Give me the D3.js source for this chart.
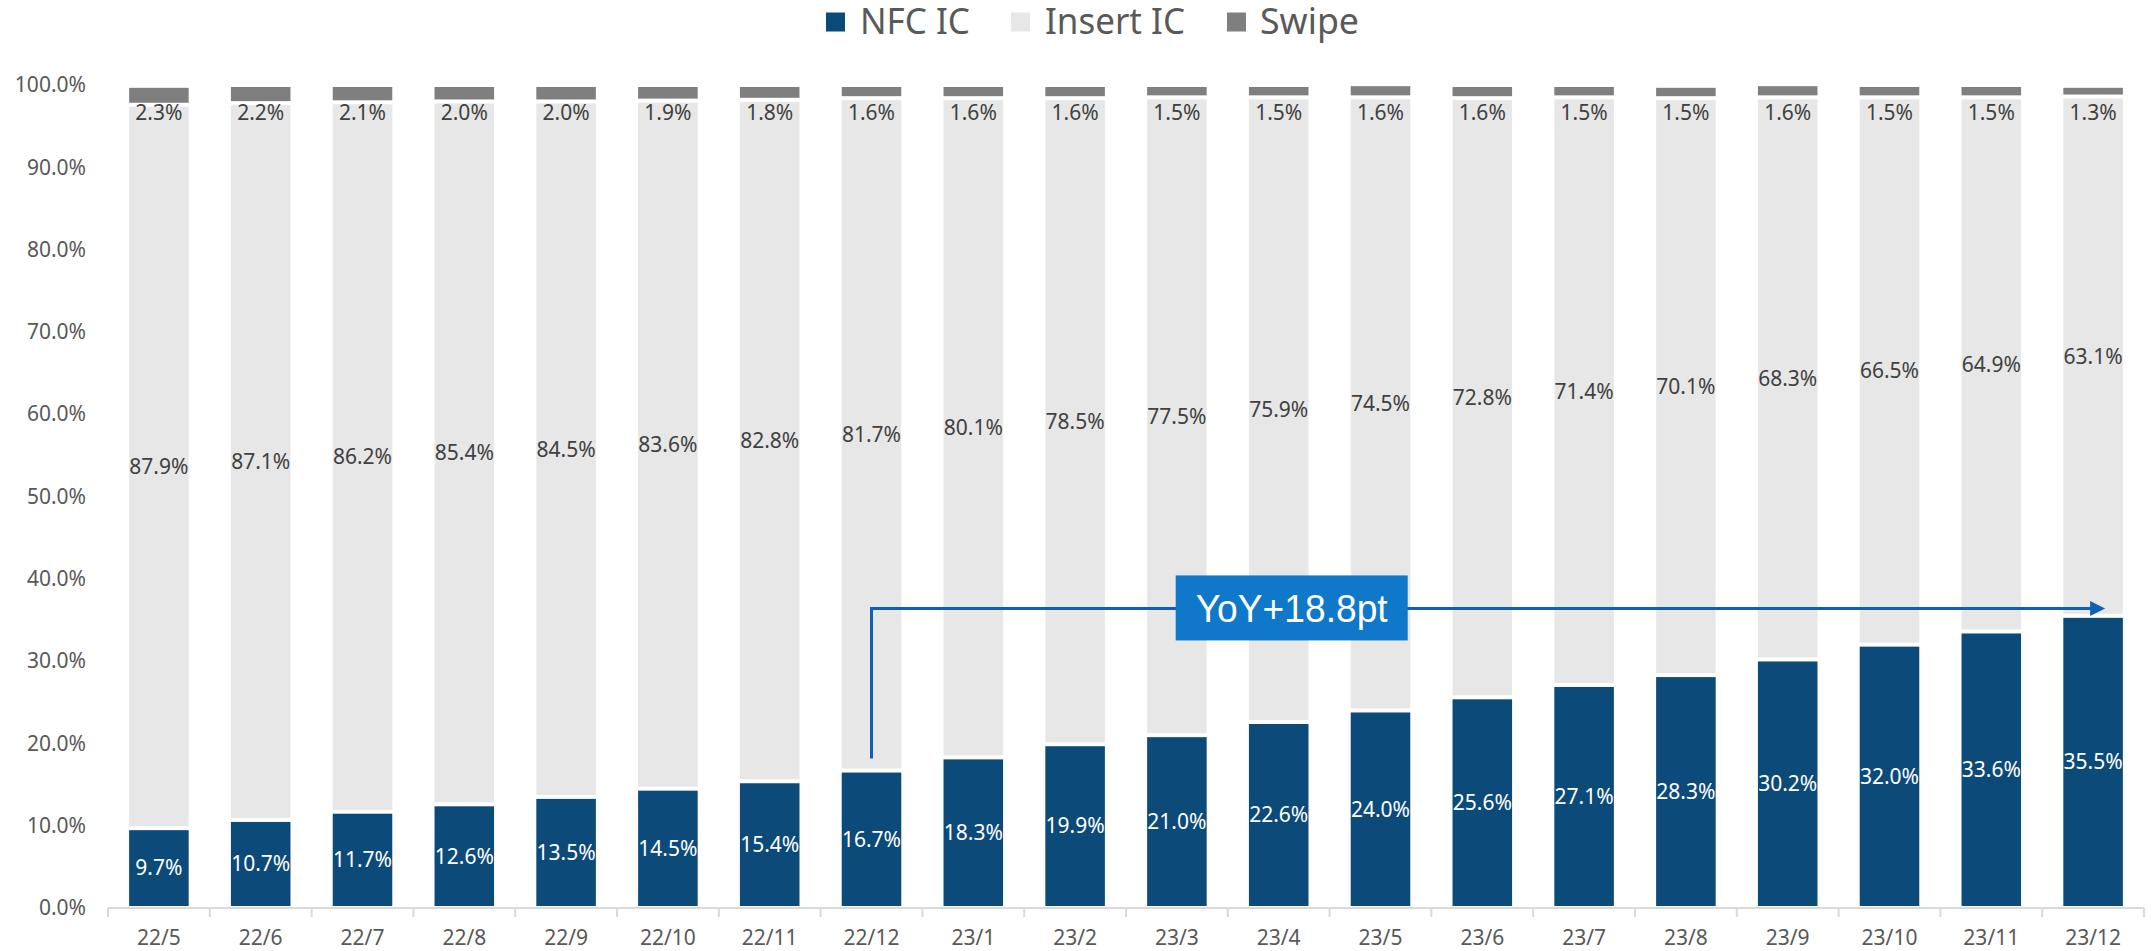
<!DOCTYPE html>
<html>
<head>
<meta charset="utf-8" />
<title>NFC IC share</title>
<style>
  body { margin: 0; background: #ffffff; }
  text { font-family: "Noto Sans", "Open Sans", sans-serif; }
</style>
</head>
<body>
<div id="chart"></div>
<script src="https://cdn.jsdelivr.net/npm/d3@7"></script>
<script>
// data (percent)
var months = ["22/5", "22/6", "22/7", "22/8", "22/9", "22/10", "22/11", "22/12", "23/1", "23/2",
              "23/3", "23/4", "23/5", "23/6", "23/7", "23/8", "23/9", "23/10", "23/11", "23/12"];
var nfcIC = [9.7, 10.7, 11.7, 12.6, 13.5, 14.5, 15.4, 16.7, 18.3, 19.9,
             21.0, 22.6, 24.0, 25.6, 27.1, 28.3, 30.2, 32.0, 33.6, 35.5];
var insertIC = [87.9, 87.1, 86.2, 85.4, 84.5, 83.6, 82.8, 81.7, 80.1, 78.5,
                77.5, 75.9, 74.5, 72.8, 71.4, 70.1, 68.3, 66.5, 64.9, 63.1];
var swipe = [2.3, 2.2, 2.1, 2.0, 2.0, 1.9, 1.8, 1.6, 1.6, 1.6,
             1.5, 1.5, 1.6, 1.6, 1.5, 1.5, 1.6, 1.5, 1.5, 1.3];
var seriesNames = ["NFC IC", "Insert IC", "Swipe"];
var yTicks = [0, 10, 20, 30, 40, 50, 60, 70, 80, 90, 100];
// annotation
var annoFrom = "22/12";
var annoTo = "23/12";
var annoBoxAt = "23/4";
var annoLevel = 36.4;
var annoText = "YoY+18.8pt";

var width = 2152;
var height = 951;
var colors = { "NFC IC": "#0b4a79", "Insert IC": "#e7e7e7", "Swipe": "#7f7f7f" };

var svg = d3.select("#chart").append("svg").attr("width", width).attr("height", height);

var x = d3.scaleBand().domain(months).range([108, 2144]).paddingInner(0.415).paddingOuter(0.2075);
var y = d3.scaleLinear().domain([0, 100]).range([908, 85]);

var rows = months.map(function(m, i) {
  return { month: m, "NFC IC": nfcIC[i], "Insert IC": insertIC[i], "Swipe": swipe[i] };
});
var stacked = d3.stack().keys(seriesNames)(rows);

// y axis labels
var yAxis = svg.append("g").attr("transform", "translate(86,0)")
  .call(d3.axisLeft(y).tickValues(yTicks).tickSize(0).tickPadding(0).tickFormat(function(d) { return d.toFixed(1) + "%"; }));
yAxis.select(".domain").remove();
yAxis.selectAll("text").attr("fill", "#595959").style("font-size", "21px").style("font-family", "Noto Sans");

// bars, inset a little so white gaps show between segments
stacked.forEach(function(layer) {
  svg.append("g").selectAll("rect").data(layer).enter().append("rect")
    .attr("x", function(d) { return x(d.data.month); })
    .attr("width", x.bandwidth())
    .attr("y", function(d) { return y(d[1]) + 2; })
    .attr("height", function(d) { return Math.max(0, y(d[0]) - y(d[1]) - 4); })
    .attr("fill", colors[layer.key]);
});

// x axis
var xAxis = svg.append("g").attr("transform", "translate(0,908)")
  .call(d3.axisBottom(x).tickSize(0).tickPadding(22));
xAxis.select(".domain").attr("stroke", "#d9d9d9").attr("stroke-width", 2).attr("d", "M108,0H2144");
xAxis.selectAll("text").attr("fill", "#595959").style("font-size", "21px").style("font-family", "Noto Sans");
var half = (x.step() - x.bandwidth()) / 2;
var bounds = months.map(function(m) { return x(m) - half; }).concat([x(months[months.length - 1]) + x.bandwidth() + half]);
svg.append("g").selectAll("line").data(bounds).enter().append("line")
  .attr("x1", function(d) { return d; }).attr("x2", function(d) { return d; })
  .attr("y1", 908).attr("y2", 917)
  .attr("stroke", "#d9d9d9").attr("stroke-width", 2);

// data labels
var cx = function(d) { return x(d.data.month) + x.bandwidth() / 2; };
svg.append("g").selectAll("text").data(stacked[0]).enter().append("text")
  .attr("x", cx).attr("y", function(d) { return (y(d[0]) + y(d[1])) / 2; })
  .attr("dy", "0.35em").attr("text-anchor", "middle")
  .attr("fill", "#ffffff").style("font-size", "21px")
  .text(function(d) { return d.data["NFC IC"].toFixed(1) + "%"; });
svg.append("g").selectAll("text").data(stacked[1]).enter().append("text")
  .attr("x", cx).attr("y", function(d) { return (y(d[0]) + y(d[1])) / 2; })
  .attr("dy", "0.35em").attr("text-anchor", "middle")
  .attr("fill", "#404040").style("font-size", "21px")
  .text(function(d) { return d.data["Insert IC"].toFixed(1) + "%"; });
svg.append("g").selectAll("text").data(stacked[2]).enter().append("text")
  .attr("x", cx).attr("y", y(100) + 28)
  .attr("dy", "0.35em").attr("text-anchor", "middle")
  .attr("fill", "#404040").style("font-size", "21px")
  .text(function(d) { return d.data["Swipe"].toFixed(1) + "%"; });

// legend
var legendItems = [
  { name: "NFC IC", sx: 826, tx: 860, tw: 110 },
  { name: "Insert IC", sx: 1011, tx: 1045, tw: 140 },
  { name: "Swipe", sx: 1227, tx: 1260, tw: 99 }
];
var legend = svg.append("g");
legendItems.forEach(function(it) {
  legend.append("rect").attr("x", it.sx).attr("y", 12.5).attr("width", 19).attr("height", 19)
    .attr("fill", colors[it.name]);
  legend.append("text").attr("x", it.tx).attr("y", 33.5)
    .attr("textLength", it.tw).attr("lengthAdjust", "spacingAndGlyphs")
    .attr("fill", "#595959").style("font-size", "37px")
    .text(it.name);
});

// YoY annotation
var ax0 = x(annoFrom) + x.bandwidth() / 2;
var ay0 = y(nfcIC[months.indexOf(annoFrom)]) - 12;
var ay = y(annoLevel);
var axTip = x(annoTo) + x.bandwidth() / 2 + 12;
var lineColor = "#0f5fb5";
svg.append("path")
  .attr("d", "M" + ax0 + "," + ay0 + "V" + ay + "H" + (axTip - 14))
  .attr("fill", "none").attr("stroke", lineColor).attr("stroke-width", 3);
svg.append("path")
  .attr("d", "M" + axTip + "," + ay + "L" + (axTip - 15) + "," + (ay - 7.5) + "L" + (axTip - 15) + "," + (ay + 7.5) + "Z")
  .attr("fill", lineColor);
var boxCx = x(annoBoxAt) + x.bandwidth() / 2 + 13;
svg.append("rect").attr("x", boxCx - 116).attr("y", ay - 33).attr("width", 232).attr("height", 65)
  .attr("fill", "#0f78c8");
svg.append("text").attr("x", boxCx).attr("y", ay + 14).attr("text-anchor", "middle")
  .attr("textLength", 192).attr("lengthAdjust", "spacingAndGlyphs")
  .attr("fill", "#ffffff").style("font-family", "Liberation Sans, Arial, sans-serif").style("font-size", "39px")
  .text(annoText);
</script>
</body>
</html>
